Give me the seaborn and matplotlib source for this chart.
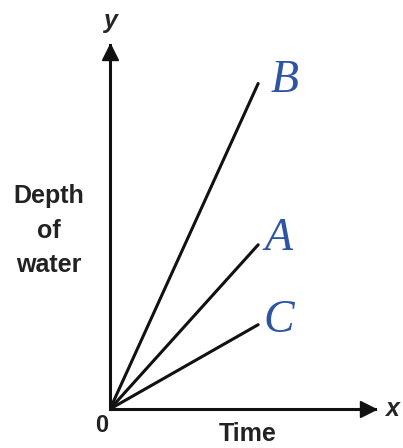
import pandas as pd
import matplotlib.pyplot as plt
import seaborn as sns

# Depth of water against time for three containers
times = [0, 10]
depth_a = [0, 11.1]
depth_b = [0, 22.0]
depth_c = [0, 5.7]
line_names = ["A", "B", "C"]

sns.set_style("white")
plt.rcParams["font.family"] = ["Liberation Sans", "DejaVu Sans"]

df = pd.DataFrame({
    "time": times * 3,
    "depth": depth_a + depth_b + depth_c,
    "line": [n for n in line_names for _ in times],
})

fig = plt.figure(figsize=(4.03, 4.48), dpi=100)
ax = fig.add_axes([0.273, 0.087, 0.658, 0.8125])

sns.lineplot(data=df, x="time", y="depth", hue="line",
             palette={n: "#111111" for n in line_names},
             linewidth=2.2, legend=False, ax=ax)

ax.set_xlim(0, 17.9)
ax.set_ylim(0, 24.6)
ax.set_xticks([])
ax.set_yticks([])
ax.set_xlabel("")
ax.set_ylabel("")
for side in ["top", "right"]:
    ax.spines[side].set_visible(False)
for side in ["left", "bottom"]:
    ax.spines[side].set_linewidth(2.2)
    ax.spines[side].set_color("#111111")

# arrow heads at the end of the axes
ax.plot(1 - 7 / 265, 0, ">", color="#111111", markersize=12,
        transform=ax.transAxes, clip_on=False)
ax.plot(0, 1 - 7 / 364, "^", color="#111111", markersize=12,
        transform=ax.transAxes, clip_on=False)

# handwritten-style line labels
label_pos = {"A": (11.4, depth_a[-1] + 0.4), "B": (11.8, depth_b[-1] + 0.2),
             "C": (11.4, depth_c[-1] + 0.25)}
for name in line_names:
    x, y = label_pos[name]
    ax.text(x, y, name, family="Liberation Serif", style="italic",
            fontsize=33, color="#2d55a3", ha="center", va="center")

ax.text(0, 1.065, "y", transform=ax.transAxes, fontsize=18,
        fontweight="bold", style="italic", ha="center", va="center")
ax.text(1.065, 0, "x", transform=ax.transAxes, fontsize=18,
        fontweight="bold", style="italic", ha="center", va="center")
ax.text(-0.03, -0.045, "0", transform=ax.transAxes, fontsize=17,
        fontweight="bold", ha="center", va="center", color="#222222")
fig.text(0.615, 0.004, "Time", fontsize=18,
         fontweight="bold", ha="center", va="bottom", color="#222222")
ax.text(-0.23, 0.49, "Depth\nof\nwater", transform=ax.transAxes,
        fontsize=18, fontweight="bold", ha="center", va="center",
        linespacing=1.55, color="#222222")

fig.savefig("out.png", dpi=100)
